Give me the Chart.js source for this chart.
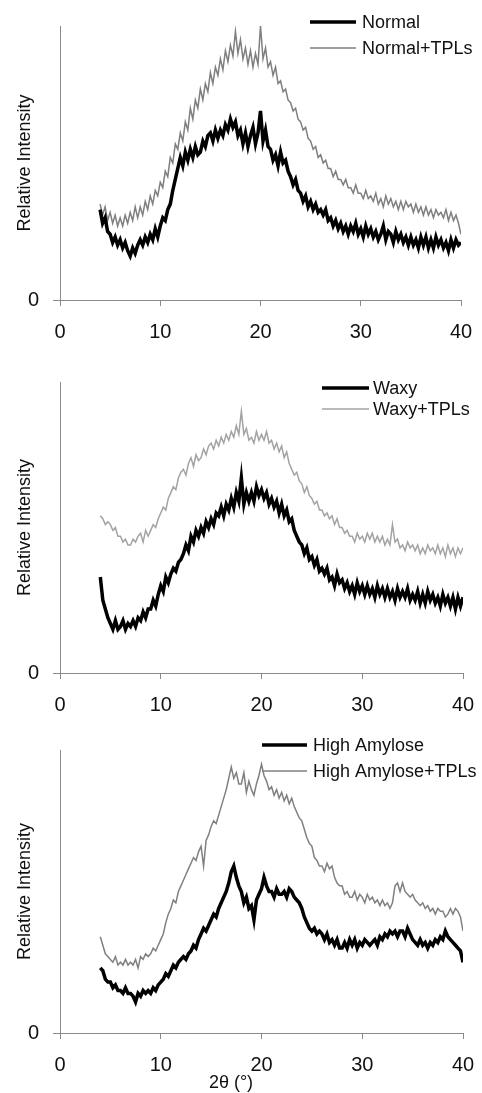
<!DOCTYPE html>
<html>
<head>
<meta charset="utf-8">
<script src="https://cdn.jsdelivr.net/npm/chart.js@4.4.1/dist/chart.umd.min.js"></script>
<style>
  html, body { margin: 0; padding: 0; background: #fff; }
  body { width: 482px; height: 1093px; position: relative; overflow: hidden; }
  canvas { position: absolute; left: 0; }
  #panel1 { top: 0; }
  #panel2 { top: 355px; }
  #panel3 { top: 715px; }
</style>
</head>
<body>
<canvas id="panel1" width="482" height="355"></canvas>
<canvas id="panel2" width="482" height="360"></canvas>
<canvas id="panel3" width="482" height="378"></canvas>
<script>
// 2θ sampling positions (degrees)
const twoTheta = [4,4.25,4.5,4.75,5,5.25,5.5,5.75,6,6.25,6.5,6.75,7,7.25,7.5,7.75,8,8.25,8.5,8.75,9,9.25,9.5,9.75,10,10.25,10.5,10.75,11,11.25,11.5,11.75,12,12.25,12.5,12.75,13,13.25,13.5,13.75,14,14.25,14.5,14.75,15,15.25,15.5,15.75,16,16.25,16.5,16.75,17,17.25,17.5,17.75,18,18.25,18.5,18.75,19,19.25,19.5,19.75,20,20.25,20.5,20.75,21,21.25,21.5,21.75,22,22.25,22.5,22.75,23,23.25,23.5,23.75,24,24.25,24.5,24.75,25,25.25,25.5,25.75,26,26.25,26.5,26.75,27,27.25,27.5,27.75,28,28.25,28.5,28.75,29,29.25,29.5,29.75,30,30.25,30.5,30.75,31,31.25,31.5,31.75,32,32.25,32.5,32.75,33,33.25,33.5,33.75,34,34.25,34.5,34.75,35,35.25,35.5,35.75,36,36.25,36.5,36.75,37,37.25,37.5,37.75,38,38.25,38.5,38.75,39,39.25,39.5,39.75,40];

const xTicks = [0, 10, 20, 30, 40];

// relative intensity (0 = baseline, 100 = top of axis)
const normal = [
  33,28,30,25, 24,21,23,20, 22,19,21,18, 16,19,17,20, 22,20,23,21, 24,22,26,23,
  27,30,29,33, 35,40,44,48, 52,49,54,51, 55,52,56,53, 54,58,56,60, 61,58,62,59,
  62,60,64,62, 66,63,65,60, 62,57,61,56, 60,63,57,61, 69,58,62,56, 55,51,53,49,
  54,50,51,47, 45,42,44,40, 39,36,38,34, 36,33,35,32, 33,31,33,29, 30,27,29,26,
  28,25,27,24, 27,25,28,24, 26,23,27,24, 26,23,25,22, 24,27,22,25, 24,21,25,22,
  24,21,23,20, 23,20,22,19, 23,20,23,19, 22,19,23,20, 22,19,21,18, 22,19,22,20,
  21
];
const normalTPLs = [
  35,31,34,29, 32,28,31,27, 30,27,31,28, 32,29,34,30, 34,31,36,33, 38,35,40,38,
  43,41,47,45, 52,50,57,55, 61,58,65,62, 70,66,73,70, 77,73,79,76, 83,79,85,82,
  88,84,91,87, 93,89,98,90, 95,88,92,86, 91,85,90,86, 100,88,92,85, 87,82,85,79,
  80,76,77,73, 72,69,70,66, 65,62,63,59, 58,55,56,52, 53,50,51,48, 48,45,47,44,
  44,42,44,41, 41,39,42,39, 39,37,40,37, 38,36,39,35, 37,34,38,35, 37,34,36,33,
  36,33,36,34, 35,32,35,32, 34,31,34,31, 33,30,33,31, 32,30,33,29, 32,29,31,28,
  24
];

const waxy = [
  33,25,22,19, 17,15,18,15, 16,18,15,17, 16,18,16,19, 18,21,19,22, 22,25,23,27,
  30,28,33,31, 34,36,35,38, 39,41,44,42, 47,45,49,47, 50,48,52,50, 53,51,55,54,
  57,54,58,56, 60,57,62,59, 67,58,62,59, 62,59,64,61, 63,60,62,58, 60,57,59,55,
  58,54,56,52, 53,49,47,45, 44,41,43,39, 40,37,39,35, 36,34,36,32, 33,30,34,31,
  32,29,31,28, 30,27,31,28, 30,27,30,27, 29,26,30,27, 29,26,29,26, 28,25,29,26,
  28,26,29,25, 27,25,28,24, 27,24,28,25, 27,24,26,23, 27,24,26,23, 26,22,26,23,
  26
];
const waxyTPLs = [
  54,53,51,52, 51,49,50,47, 47,45,46,44, 44,46,45,47, 48,45,49,47, 49,51,50,53,
  55,57,56,60, 62,64,63,67, 69,70,68,72, 74,71,75,73, 74,77,75,78, 79,77,80,78,
  81,79,82,80, 83,81,85,82, 90,82,84,80, 81,79,83,80, 82,80,83,79, 80,77,79,76,
  78,74,76,72, 70,68,69,66, 65,62,64,61, 60,58,59,56, 56,54,55,53, 54,51,53,50,
  50,48,49,47, 47,45,48,46, 47,45,48,46, 48,45,47,45, 47,44,46,44, 51,45,46,43,
  44,42,45,43, 44,42,44,41, 43,41,44,42, 43,41,44,41, 43,40,44,41, 43,40,43,41,
  43
];

const highAmylose = [
  23,22,19,18, 18,16,17,15, 15,14,16,14, 14,13,11,14, 13,15,14,15, 14,16,15,17,
  18,19,21,20, 22,24,23,25, 26,27,26,28, 29,31,30,33, 35,37,36,38, 40,42,41,44,
  46,48,50,53, 57,59,55,52, 50,46,48,44, 45,40,47,49, 51,55,52,50, 50,48,51,49,
  49,50,48,51, 50,48,47,46, 44,41,39,37, 36,37,35,36, 35,33,35,32, 33,31,33,30,
  30,32,30,33, 31,33,30,32, 31,33,32,31, 32,33,31,34, 33,35,34,36, 35,36,34,36,
  36,34,37,35, 33,32,31,33, 31,32,30,32, 31,33,32,34, 33,36,34,33, 32,31,30,29,
  25
];
const highAmyloseTPLs = [
  34,31,28,27, 26,25,27,24, 25,24,26,24, 25,24,26,23, 27,26,28,27, 28,30,29,31,
  33,35,39,42, 44,47,46,50, 52,54,56,58, 60,62,61,64, 66,59,68,70, 73,75,74,77,
  80,83,86,90, 94,90,92,88, 88,92,85,89, 86,84,88,91, 95,91,89,86, 87,84,86,83,
  85,82,84,81, 83,80,78,76, 75,72,69,67, 66,62,61,59, 59,57,60,58, 59,55,53,52,
  52,49,50,48, 48,50,47,49, 48,46,49,47, 48,46,47,45, 47,45,46,44, 46,52,53,50,
  53,50,49,48, 49,47,46,45, 46,44,45,43, 44,42,44,43, 43,41,42,44, 42,44,43,41,
  36
];

document.addEventListener('DOMContentLoaded', function() {
    const FONT = '"Liberation Sans", Arial, sans-serif';
    const AXIS_GREY = '#8a8a8a';

    // draws the little legend in the top-right corner + optional x title
    const cornerLegend = {
        id: 'cornerLegend',
        afterDraw(chart, args, opts) {
            const ctx = chart.ctx;
            ctx.save();
            ctx.font = '18px ' + FONT;
            ctx.textBaseline = 'middle';
            chart.data.datasets.forEach((ds, i) => {
                const y = opts.rows[i];
                ctx.strokeStyle = ds.borderColor;
                ctx.lineWidth = ds.borderWidth;
                ctx.beginPath();
                ctx.moveTo(opts.lineFrom, y);
                ctx.lineTo(opts.lineTo, y);
                ctx.stroke();
                ctx.fillStyle = '#111';
                ctx.fillText(ds.label, opts.textX, y + 1);
            });
            if (opts.xTitle) {
                ctx.font = '18px ' + FONT;
                ctx.textAlign = 'center';
                ctx.fillStyle = '#111';
                ctx.fillText(opts.xTitle, opts.xTitleX, opts.xTitleY);
            }
            ctx.restore();
        }
    };

    function toPoints(values) {
        return twoTheta.map((x, i) => ({ x: x, y: values[i] }));
    }

    function makePanel(id, cfg) {
        const canvas = document.getElementById(id);
        const ctx = canvas.getContext('2d');
        return new Chart(ctx, {
            type: 'line',
            data: {
                datasets: [{
                    label: cfg.labels[0],
                    data: toPoints(cfg.series[0]),
                    borderColor: '#000',
                    borderWidth: 3.5,
                    pointRadius: 0,
                    tension: 0
                }, {
                    label: cfg.labels[1],
                    data: toPoints(cfg.series[1]),
                    borderColor: cfg.greyColor,
                    borderWidth: 1.5,
                    pointRadius: 0,
                    tension: 0
                }]
            },
            options: {
                responsive: false,
                animation: false,
                layout: { padding: { top: cfg.padTop, right: cfg.padRight, left: 0, bottom: 0 } },
                plugins: {
                    legend: { display: false },
                    tooltip: { enabled: false },
                    cornerLegend: cfg.legend
                },
                scales: {
                    x: {
                        type: 'linear',
                        min: 0,
                        max: 40,
                        afterBuildTicks: (scale) => { scale.ticks = xTicks.map(v => ({ value: v })); },
                        afterFit: (scale) => {
                            scale.height = cfg.xAxisHeight;
                            // layout padding alone decides where the plot ends
                            scale.paddingLeft = 0;
                            scale.paddingRight = 0;
                        },
                        ticks: {
                            color: '#111',
                            font: { family: FONT, size: 20 },
                            padding: 14,
                            maxRotation: 0
                        },
                        grid: { drawOnChartArea: false, drawTicks: true, tickLength: 6, color: AXIS_GREY },
                        border: { color: AXIS_GREY, width: 1 }
                    },
                    y: {
                        min: 0,
                        max: 100,
                        afterFit: (scale) => { scale.width = 60; },
                        ticks: {
                            stepSize: 100,
                            color: '#111',
                            font: { family: FONT, size: 20 },
                            padding: 14,
                            callback: (v) => v === 0 ? '0' : null
                        },
                        grid: { drawOnChartArea: false, drawTicks: true, tickLength: 7, color: AXIS_GREY },
                        border: { color: AXIS_GREY, width: 1 },
                        title: {
                            display: true,
                            text: 'Relative Intensity',
                            color: '#111',
                            font: { family: FONT, size: 18 },
                            padding: { top: 14, bottom: 0 }
                        }
                    }
                }
            },
            plugins: [cornerLegend]
        });
    }

    makePanel('panel1', {
        labels: ['Normal', 'Normal+TPLs'],
        series: [normal, normalTPLs],
        greyColor: '#7f7f7f',
        padTop: 15,
        padRight: 21,
        xAxisHeight: 55,
        legend: { rows: [22, 48], lineFrom: 310, lineTo: 356, textX: 362 }
    });

    makePanel('panel2', {
        labels: ['Waxy', 'Waxy+TPLs'],
        series: [waxy, waxyTPLs],
        greyColor: '#a3a3a3',
        padTop: 27,
        padRight: 19,
        xAxisHeight: 42,
        legend: { rows: [33, 54], lineFrom: 322, lineTo: 369, textX: 373 }
    });

    makePanel('panel3', {
        labels: ['High Amylose', 'High Amylose+TPLs'],
        series: [highAmylose, highAmyloseTPLs],
        greyColor: '#808080',
        padTop: 35,
        padRight: 19,
        xAxisHeight: 60,
        legend: {
            rows: [30, 56], lineFrom: 262, lineTo: 307, textX: 313,
            xTitle: '2θ (°)', xTitleX: 231, xTitleY: 368
        }
    });
});
</script>
</body>
</html>
